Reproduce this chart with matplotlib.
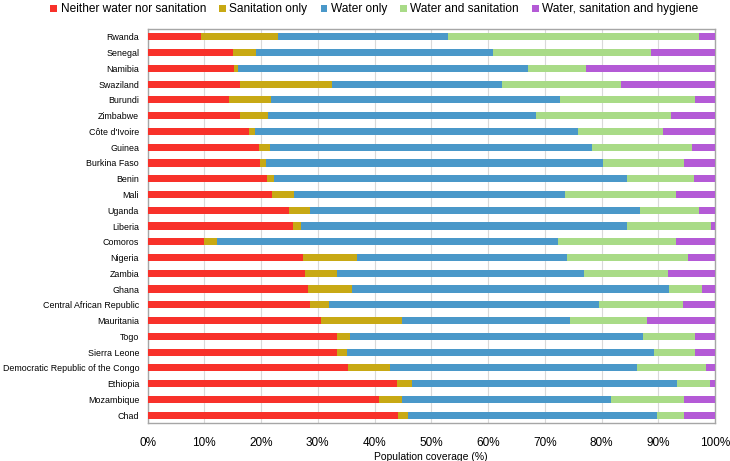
import matplotlib
matplotlib.use("Agg")
import matplotlib.pyplot as plt
import numpy as np

countries = ["Rwanda", "Senegal", "Namibia", "Swaziland", "Burundi", "Zimbabwe",
             "Côte d'Ivoire", "Guinea", "Burkina Faso", "Benin", "Mali", "Uganda",
             "Liberia", "Comoros", "Nigeria", "Zambia", "Ghana",
             "Central African Republic", "Mauritania", "Togo", "Sierra Leone",
             "Democratic Republic of the Congo", "Ethiopia", "Mozambique", "Chad"]

# cumulative boundaries (%)
cum_neither = [9.5, 15.0, 15.3, 16.3, 14.4, 16.3, 17.8, 19.6, 19.8, 21.1, 22.0, 24.9,
               25.7, 10.0, 27.4, 27.7, 28.3, 28.6, 30.6, 33.4, 33.4, 35.3, 43.9, 40.8, 44.2]
cum_san = [23.0, 19.1, 16.0, 32.5, 21.8, 21.2, 18.9, 21.6, 20.9, 22.3, 25.8, 28.6,
           27.0, 12.2, 37.0, 33.4, 36.0, 32.0, 44.8, 35.7, 35.2, 42.8, 46.6, 44.8, 45.9]
cum_water = [53.0, 60.8, 67.1, 62.5, 72.6, 68.4, 75.8, 78.4, 80.2, 84.5, 73.6, 86.7,
             84.5, 72.4, 74.0, 76.9, 91.9, 79.6, 74.4, 87.3, 89.2, 86.3, 93.3, 81.6, 89.8]
cum_ws = [97.2, 88.7, 77.3, 83.4, 96.5, 92.2, 90.8, 95.9, 94.5, 96.3, 93.2, 97.2,
          99.3, 93.2, 95.2, 91.8, 97.7, 94.3, 88.1, 96.5, 96.5, 98.4, 99.1, 94.6, 94.6]

neither = np.array(cum_neither)
san_only = np.array(cum_san) - np.array(cum_neither)
water_only = np.array(cum_water) - np.array(cum_san)
water_san = np.array(cum_ws) - np.array(cum_water)
wash = 100 - np.array(cum_ws)

series = [neither, san_only, water_only, water_san, wash]
labels = ["Neither water nor sanitation", "Sanitation only", "Water only",
          "Water and sanitation", "Water, sanitation and hygiene"]
colors = ["#f8312a", "#c8a914", "#4a98c9", "#a9db87", "#b45ad6"]

plt.rcParams['font.family'] = ['Liberation Sans', 'DejaVu Sans']

fig = plt.figure(figsize=(7.3, 4.61), dpi=100)
ax = fig.add_axes([147.5 / 730, 1 - 423 / 461, (715 - 147.5) / 730, (423 - 29) / 461])

y = np.arange(len(countries))
left = np.zeros(len(countries))
for vals, lab, col in zip(series, labels, colors):
    ax.barh(y, vals, left=left, height=0.45, color=col, label=lab, zorder=3)
    left = left + vals

ax.set_ylim(len(countries) - 0.5, -0.5)
ax.set_xlim(0, 100)
ax.set_yticks(y)
ax.set_yticklabels(countries, fontsize=6.4)
ax.set_xticks(np.arange(0, 101, 10))
ax.set_xticklabels([f"{v}%" for v in range(0, 101, 10)], fontsize=8.5)
ax.tick_params(axis='y', length=0, pad=6)
ax.tick_params(axis='x', length=0, pad=10)
ax.grid(axis='x', color='#d9d9d9', linewidth=0.8, zorder=0)
for sp in ax.spines.values():
    sp.set_color('#a6a6a6')
    sp.set_linewidth(1.0)
ax.set_xlabel("Population coverage (%)", fontsize=7.5, labelpad=2)

fig.legend(loc='upper center', bbox_to_anchor=(0.513, 1.008), ncol=5, frameon=False,
           fontsize=8.6, handlelength=0.55, handleheight=0.55, handletextpad=0.3,
           columnspacing=1.1, borderaxespad=0.2)

fig.savefig("out.png", dpi=100)
